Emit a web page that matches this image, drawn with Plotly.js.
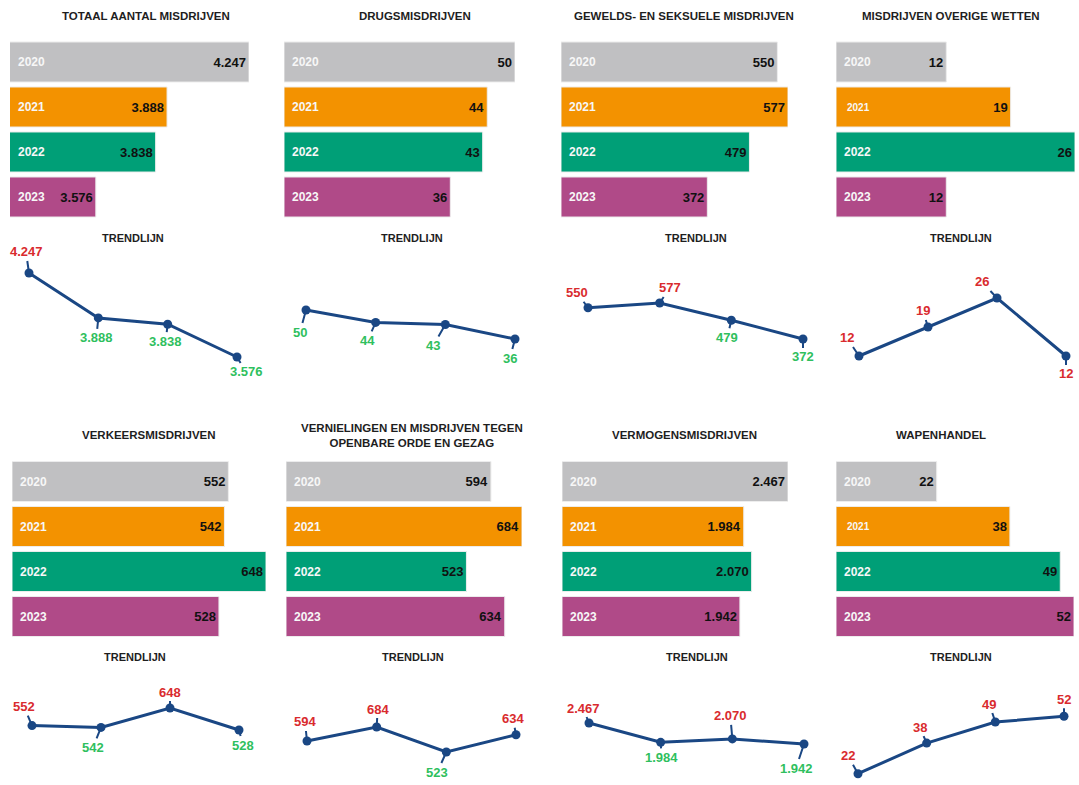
<!DOCTYPE html>
<html>
<head>
<meta charset="utf-8">
<script src="https://cdn.plot.ly/plotly-3.0.1.min.js"></script>
<style>html,body{margin:0;padding:0;background:#fff;}#chart{width:1079px;height:785px;}</style>
</head>
<body>
<div id="chart"></div>
<script>
// ---------- DATA ----------
const years = ['2020', '2021', '2022', '2023'];
const titles = [
  'TOTAAL AANTAL MISDRIJVEN',
  'DRUGSMISDRIJVEN',
  'GEWELDS- EN SEKSUELE MISDRIJVEN',
  'MISDRIJVEN OVERIGE WETTEN',
  'VERKEERSMISDRIJVEN',
  'VERNIELINGEN EN MISDRIJVEN TEGEN<br>OPENBARE ORDE EN GEZAG',
  'VERMOGENSMISDRIJVEN',
  'WAPENHANDEL'
];
const subtitle = 'TRENDLIJN';
const totaal = [4247, 3888, 3838, 3576];
const drugs = [50, 44, 43, 36];
const geweld = [550, 577, 479, 372];
const overige = [12, 19, 26, 12];
const verkeer = [552, 542, 648, 528];
const vernielingen = [594, 684, 523, 634];
const vermogen = [2467, 1984, 2070, 1942];
const wapen = [22, 38, 49, 52];
const series = [totaal, drugs, geweld, overige, verkeer, vernielingen, vermogen, wapen];

// ---------- STYLE / LAYOUT CONFIG ----------
const W = 1079, H = 785;
const FONT = 'Liberation Sans, Arial, Helvetica, sans-serif';
const barColors = ['#c0c0c2', '#f39200', '#009f77', '#b04a88'];
const lineColor = '#1a4784';
const RED = '#d92b2e', GREEN = '#2fbf5e';
const rows = [
  {barY: [39.5, 219.5], titleY: 16, trendY: 238},
  {barY: [459, 639], titleY: 435, trendY: 657}
];
const panels = [
  {row: 0, barX: [10, 249], barMin: 3200, titleX: 146, trendX: 133, lineX: [29, 237], lineY: [273, 357],
   offs: [[-3, -21], [-2, 20], [-2, 17], [9, 15]], red: [1, 0, 0, 0]},
  {row: 0, barX: [284, 515], barMin: 0, titleX: 415, trendX: 412, lineX: [306, 515], lineY: [310, 339],
   offs: [[-6, 22], [-8, 18], [-12, 21], [-5, 19]], red: [0, 0, 0, 0]},
  {row: 0, barX: [561, 788], barMin: 0, titleX: 684, trendX: 696, lineX: [588, 803], lineY: [303, 339],
   offs: [[-11, -15], [10, -15], [-4, 17], [0, 18]], red: [1, 1, 0, 0]},
  {row: 0, barX: [836, 1075], barMin: 0, titleX: 951, trendX: 961, lineX: [859, 1066], lineY: [298, 356],
   offs: [[-12, -18], [-5, -16], [-15, -16], [0, 18]], red: [1, 1, 1, 1], smallYear: 1},
  {row: 1, barX: [12, 266], barMin: 0, titleX: 149, trendX: 135, lineX: [32, 239], lineY: [708, 730],
   offs: [[-8, -19], [-8, 20], [0, -16], [4, 15]], red: [1, 0, 1, 0]},
  {row: 1, barX: [286, 522], barMin: 0, titleX: 412, trendX: 413, lineX: [307, 516], lineY: [727, 752],
   offs: [[-2, -19], [1, -18], [-9, 20], [-3, -16]], red: [1, 1, 0, 1]},
  {row: 1, barX: [562, 788], barMin: 0, titleX: 684, trendX: 697, lineX: [589, 804], lineY: [723, 744],
   offs: [[-6, -15], [1, 15], [-2, -23], [-8, 24]], red: [1, 0, 1, 0]},
  {row: 1, barX: [836, 1074], barMin: 0, titleX: 941, trendX: 961, lineX: [858, 1064], lineY: [717, 778],
   offs: [[-10, -18], [-7, -16], [-6, -18], [0, -17]], red: [1, 1, 1, 1], smallYear: 1}
];

function fmt(v) { return String(v).replace(/\B(?=(\d{3})+(?!\d))/g, '.'); }
const px = x => x / W;
const py = y => 1 - y / H;
const axKey = (p, k) => k === 1 ? p + 'axis' : p + 'axis' + k;
const axRef = (p, k) => k === 1 ? p : p + k;

const traces = [];
const annotations = [];
const layout = {
  width: W, height: H,
  margin: {l: 0, r: 0, t: 0, b: 0},
  paper_bgcolor: '#ffffff', plot_bgcolor: 'rgba(0,0,0,0)',
  showlegend: false, bargap: 0.11,
  font: {family: FONT, color: '#1a1a1a'},
  annotations: annotations
};

panels.forEach((p, i) => {
  const vals = series[i];
  const row = rows[p.row];
  const kb = 2 * i + 1, kl = 2 * i + 2;
  const vmax = Math.max(...vals), vmin = Math.min(...vals);
  const slots = years.map((_, j) => j);

  // ----- bar subplot -----
  layout[axKey('x', kb)] = {domain: [px(p.barX[0]), px(p.barX[1])], range: [p.barMin, vmax],
    type: 'linear', visible: false, fixedrange: true, anchor: axRef('y', kb)};
  layout[axKey('y', kb)] = {domain: [py(row.barY[1]), py(row.barY[0])], type: 'linear',
    range: [years.length - 0.5, -0.5], visible: false, fixedrange: true, anchor: axRef('x', kb)};
  traces.push({
    type: 'bar', orientation: 'h', y: slots, x: vals,
    xaxis: axRef('x', kb), yaxis: axRef('y', kb),
    marker: {color: barColors, line: {color: '#ededed', width: 1}},
    text: vals.map(v => '<b>' + fmt(v) + '</b>'),
    textposition: 'inside', insidetextanchor: 'end', constraintext: 'none', textangle: 0,
    textfont: {family: FONT, size: 13, color: '#111111'},
    hoverinfo: 'skip'
  });
  years.forEach((yr, j) => {
    const small = p.smallYear === j;
    annotations.push({
      xref: axRef('x', kb), yref: axRef('y', kb), x: p.barMin, y: j,
      xanchor: 'left', yanchor: 'middle', xshift: small ? 9 : 6, showarrow: false,
      text: '<b>' + yr + '</b>', font: {family: FONT, size: small ? 10 : 12, color: '#f7f7f7'}
    });
  });

  // ----- titles -----
  annotations.push({xref: 'paper', yref: 'paper', x: px(p.titleX), y: py(row.titleY),
    xanchor: 'center', yanchor: 'middle', showarrow: false,
    text: '<b>' + titles[i] + '</b>', font: {family: FONT, size: 11.5, color: '#1e1e1e'}});
  annotations.push({xref: 'paper', yref: 'paper', x: px(p.trendX), y: py(row.trendY),
    xanchor: 'center', yanchor: 'middle', showarrow: false,
    text: '<b>' + subtitle + '</b>', font: {family: FONT, size: 11, color: '#1e1e1e'}});

  // ----- trend line subplot -----
  const pad = 12;
  const xs = years.map(Number);
  const sx = (p.lineX[1] - p.lineX[0]) / (xs[3] - xs[0]);
  const sy = (p.lineY[1] - p.lineY[0]) / (vmax - vmin);
  layout[axKey('x', kl)] = {domain: [px(p.lineX[0] - pad), px(p.lineX[1] + pad)],
    range: [xs[0] - pad / sx, xs[3] + pad / sx], visible: false, fixedrange: true, anchor: axRef('y', kl)};
  layout[axKey('y', kl)] = {domain: [py(p.lineY[1] + pad), py(p.lineY[0] - pad)],
    range: [vmin - pad / sy, vmax + pad / sy], visible: false, fixedrange: true, anchor: axRef('x', kl)};
  traces.push({
    type: 'scatter', mode: 'lines+markers', x: xs, y: vals,
    xaxis: axRef('x', kl), yaxis: axRef('y', kl), cliponaxis: false,
    line: {color: lineColor, width: 3}, marker: {color: lineColor, size: 9},
    hoverinfo: 'skip'
  });
  vals.forEach((v, j) => {
    annotations.push({
      xref: axRef('x', kl), yref: axRef('y', kl), x: xs[j], y: v,
      ax: p.offs[j][0], ay: p.offs[j][1],
      showarrow: true, arrowhead: 0, arrowwidth: 2, arrowcolor: lineColor,
      text: '<b>' + fmt(v) + '</b>',
      font: {family: FONT, size: 13, color: p.red[j] ? RED : GREEN}
    });
  });
});

Plotly.newPlot('chart', traces, layout, {displayModeBar: false, staticPlot: true});
</script>
</body>
</html>
